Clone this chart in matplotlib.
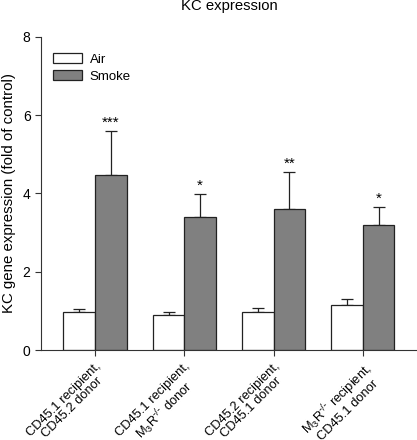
import matplotlib
matplotlib.use("Agg")
import matplotlib.pyplot as plt
import numpy as np

plt.rcParams['font.family'] = ['Liberation Sans', 'DejaVu Sans']
plt.rcParams['mathtext.default'] = 'regular'

groups = ["CD45.1 recipient,\nCD45.2 donor",
          "CD45.1 recipient,\nM$_3$R$^{\\text{-/-}}$ donor",
          "CD45.2 recipient,\nCD45.1 donor",
          "M$_3$R$^{\\text{-/-}}$ recipient,\nCD45.1 donor"]
air = [0.98, 0.90, 0.98, 1.15]
air_err = [0.08, 0.06, 0.10, 0.16]
smoke = [4.47, 3.39, 3.60, 3.19]
smoke_err = [1.12, 0.60, 0.94, 0.45]
stars = ["***", "*", "**", "*"]

fig = plt.figure(figsize=(4.17, 4.40), dpi=100)
ax = fig.add_axes([0.0983, 0.2045, 0.9017, 0.712])

x = np.arange(len(groups))
w = 0.353
ax.bar(x - w / 2, air, w, color='white', edgecolor='#222222', linewidth=0.9, label='Air', zorder=2)
ax.bar(x + w / 2, smoke, w, color='#808080', edgecolor='#222222', linewidth=0.9, label='Smoke', zorder=2)
ax.errorbar(x - w / 2, air, yerr=[np.zeros(4), air_err], fmt='none', ecolor='#222222',
            elinewidth=0.9, capsize=4, capthick=0.9, zorder=1)
ax.errorbar(x + w / 2, smoke, yerr=[np.zeros(4), smoke_err], fmt='none', ecolor='#222222',
            elinewidth=0.9, capsize=4, capthick=0.9, zorder=1)

for xi, s, e, st in zip(x, smoke, smoke_err, stars):
    ax.annotate(st, (xi + w / 2, s + e), xytext=(0, 1), textcoords='offset points',
                ha='center', va='bottom', fontsize=11)

ax.set_xlim(-0.605, 3.605)
ax.set_ylim(0, 8)
ax.set_yticks([0, 2, 4, 6, 8])
ax.set_xticks(x)
ax.set_xticklabels(groups, rotation=45, ha='right', rotation_mode='anchor',
                   multialignment='center', fontsize=9.3, linespacing=1.0)
ax.tick_params(axis='both', direction='out', length=4, width=0.8, color='#333333', labelsize=10)
ax.tick_params(axis='x', pad=3, labelsize=9.3)
for sp in ['top', 'right']:
    ax.spines[sp].set_visible(False)
for sp in ['left', 'bottom']:
    ax.spines[sp].set_linewidth(0.8)
    ax.spines[sp].set_color('#333333')

ax.set_ylabel("KC gene expression (fold of control)", fontsize=10.8, labelpad=5)
ax.set_title("KC expression", fontsize=10.7, pad=19)
ax.legend(loc='upper left', bbox_to_anchor=(0.0, 0.985), frameon=False, fontsize=9.5,
          handlelength=2.2, handleheight=0.8, handletextpad=0.6, labelspacing=0.3)

fig.savefig("out.png", dpi=100)
